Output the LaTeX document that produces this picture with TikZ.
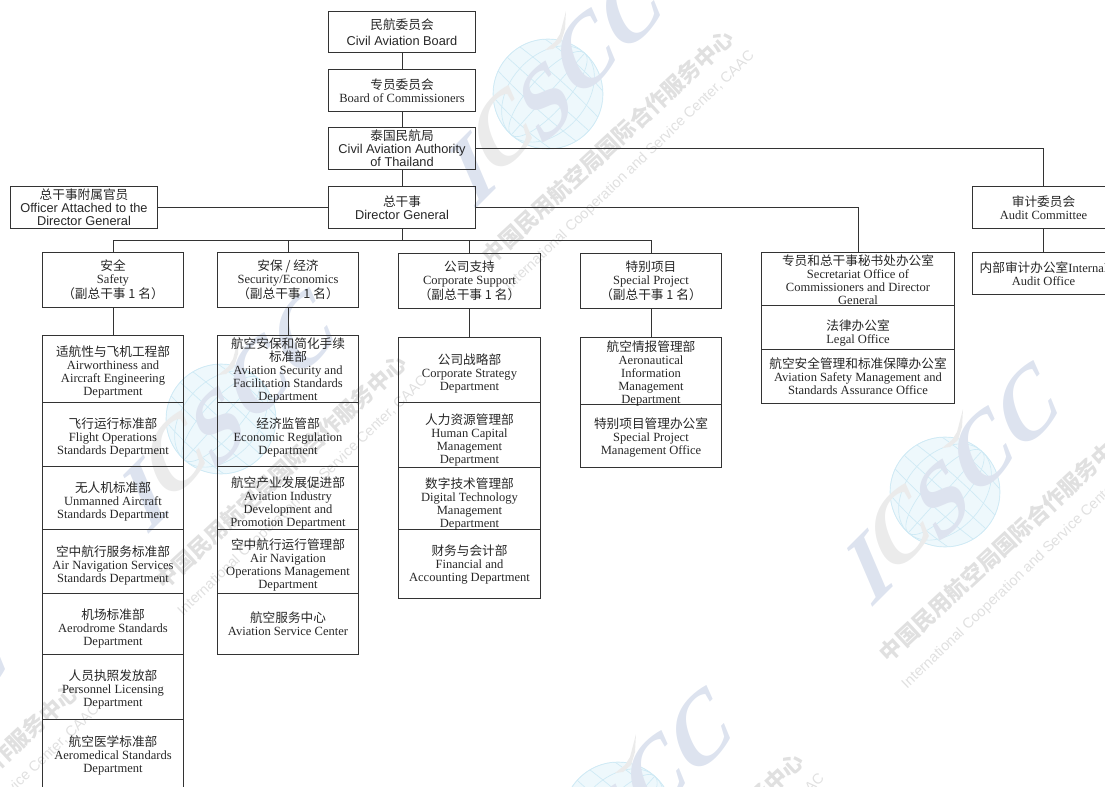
\documentclass[tikz,border=0pt]{standalone}
\usepackage{fontspec}
\setmainfont{Liberation Serif}
\newfontfamily\cjk{Noto Sans CJK SC}
\newfontfamily\sa{Liberation Sans}
\definecolor{wmblue}{HTML}{DDE3EF}
\definecolor{wmgray}{HTML}{EBEBEB}
\definecolor{wmglobe}{HTML}{EEF8FC}
\definecolor{wmgrid}{HTML}{CFEAF5}
\definecolor{wmtext}{HTML}{E0E0E0}
\definecolor{ink}{HTML}{333333}
\newcommand\zh[1]{{\cjk\fontsize{9.5pt}{9.75pt}\selectfont #1}}
\newcommand\se[1]{{\sa\fontsize{9.6pt}{9.75pt}\selectfont #1}}
\newdimen\pxu \pxu=0.75pt
\newcommand\bx[6][0]{%
  \pgfmathsetmacro\bw{(#5-#3)*0.75}\pgfmathsetmacro\bh{(#6-#4)*0.75}%
  \node[boxst,minimum width=\bw pt,minimum height=\bh pt] (#2) at ({(#3+#5)/2},{(#4+#6)/2}) {};
}
\newcommand\tx[3][0]{%
  \node[txtst] (#2t) at ([yshift=#1\pxu]#2.center) {#3};
}
\newcommand\wm[2]{%
  \begin{scope}[shift={(#1,#2)}]
    \fill[wmglobe] (0,0) circle[radius=55];
    \begin{scope}
      \clip (0,0) circle[radius=55];
      \begin{scope}[rotate=-42]
        \foreach \r in {18,38,55}{\draw[wmgrid,line width=.5pt] (0,0) ellipse[x radius=\r,y radius=55];}
        \draw[wmgrid,line width=.5pt] (0,-55) -- (0,55);
        \foreach \s in {-36,-16,16,36}{\draw[wmgrid,line width=.5pt] (-55,\s) .. controls (-20,{\s*1.2}) and (20,{\s*1.2}) .. (55,\s);}
        \draw[wmgrid,line width=.5pt] (-55,0) -- (55,0);
      \end{scope}
    \end{scope}
    \draw[wmgrid,line width=.5pt] (0,0) circle[radius=55];
    \fill[wmgray] (18,-83) -- (12,-60) -- (7,-52) -- (-3,-44) -- (5,-45) -- (13,-52) -- (17,-65) -- cycle;
    \node[wmletter,text=wmblue] at (-75,76) {I};
    \node[wmletter,text=wmgray] at (-45,36) {C};
    \node[wmletter,text=wmblue] at (-2,7) {S};
    \node[wmletter,text=wmblue] at (38,-42) {C};
    \node[wmletter,text=wmblue] at (83,-87) {C};
    \node[rotate=42.8,text=wmtext,font=\cjk\bfseries\fontsize{16.6pt}{17pt}\selectfont,inner sep=0] at (60,53) {中国民用航空局国际合作服务中心};
    \node[rotate=43.8,text=wmtext,font=\sa\fontsize{10.9pt}{11pt}\selectfont,inner sep=0] at (82,77) {International Cooperation and Service Center, CAAC};
  \end{scope}
}
\tikzset{
  boxst/.style={draw=ink,line width=.7pt,inner sep=0pt,rectangle},
  txtst/.style={align=center,inner sep=0pt,text=black!85,font=\fontsize{9.4pt}{9.75pt}\selectfont},
  link/.style={draw=ink,line width=.7pt},
  wmletter/.style={transform shape,rotate=45,xslant=0.4,inner sep=0,font=\bfseries\fontsize{68pt}{68pt}\selectfont},
}
\begin{document}
\begin{tikzpicture}[x=0.75pt,y=-0.75pt]
\clip (0,0) rectangle (1105,787);
\useasboundingbox (0,0) rectangle (1105,787);
\wm{548}{94}
\wm{221}{419}
\wm{945}{492}
\wm{-107}{748}
\wm{618}{817}

\bx{board}{328.5}{11.5}{475.5}{52.5}
\bx{comm}{328.5}{69.5}{475.5}{111.5}
\bx{caat}{328.5}{127.5}{475.5}{169.5}
\bx{dg}{328.5}{186.5}{475.5}{228.5}
\bx{officer}{10.5}{186.5}{157.5}{228.5}
\bx{audit}{972.5}{186.5}{1114.5}{228.5}
\bx{internal}{972.5}{252.5}{1114.5}{294.5}
\bx{safety}{42.5}{252.5}{183.5}{307.5}
\bx{secon}{217.5}{252.5}{358.5}{307.5}
\bx{corp}{398.5}{253.5}{540.5}{308.5}
\bx{special}{580.5}{253.5}{721.5}{308.5}
\bx{sec}{761.5}{252.5}{954.5}{305.5}
\bx{legal}{761.5}{305.5}{954.5}{349.5}
\bx{asm}{761.5}{349.5}{954.5}{403.5}

\bx{a1}{42.5}{335.5}{183.5}{402.5}
\bx{a2}{42.5}{402.5}{183.5}{466.5}
\bx{a3}{42.5}{466.5}{183.5}{529.5}
\bx{a4}{42.5}{529.5}{183.5}{593.5}
\bx{a5}{42.5}{593.5}{183.5}{654.5}
\bx{a6}{42.5}{654.5}{183.5}{719.5}
\bx{a7}{42.5}{719.5}{183.5}{790.5}

\bx{b1}{217.5}{335.5}{358.5}{402.5}
\bx{b2}{217.5}{402.5}{358.5}{466.5}
\bx{b3}{217.5}{466.5}{358.5}{529.5}
\bx{b4}{217.5}{529.5}{358.5}{593.5}
\bx{b5}{217.5}{593.5}{358.5}{654.5}

\bx{c1}{398.5}{337.5}{540.5}{402.5}
\bx{c2}{398.5}{402.5}{540.5}{467.5}
\bx{c3}{398.5}{467.5}{540.5}{529.5}
\bx{c4}{398.5}{529.5}{540.5}{598.5}

\bx{d1}{580.5}{337.5}{721.5}{404.5}
\bx{d2}{580.5}{404.5}{721.5}{467.5}

\tx{board}{\zh{民航委员会}\\[2.5pt]\se{Civil Aviation Board}}
\tx{comm}{\zh{专员委员会}\\Board of Commissioners}
\tx{caat}{\zh{泰国民航局}\\\se{Civil Aviation Authority}\\\se{of Thailand}}
\tx{dg}{\zh{总干事}\\\se{Director General}}
\tx{officer}{\zh{总干事附属官员}\\\se{Officer Attached to the}\\\se{Director General}}
\tx{audit}{\zh{审计委员会}\\Audit Committee}
\tx[0]{internal}{\zh{内部审计办公室}Internal\\Audit Office}
\tx{safety}{\zh{安全}\\Safety\\\zh{（副总干事 1 名）}}
\tx{secon}{\zh{安保 / 经济}\\Security/Economics\\\zh{（副总干事 1 名）}}
\tx{corp}{\zh{公司支持}\\Corporate Support\\\zh{（副总干事 1 名）}}
\tx{special}{\zh{特别项目}\\Special Project\\\zh{（副总干事 1 名）}}
\tx[-1]{sec}{\zh{专员和总干事秘书处办公室}\\Secretariat Office of\\Commissioners and Director\\General}
\tx[-5.5]{legal}{\zh{法律办公室}\\Legal Office}
\tx{asm}{\zh{航空安全管理和标准保障办公室}\\Aviation Safety Management and\\Standards Assurance Office}

\tx[-2.5]{a1}{\zh{适航性与飞机工程部}\\Airworthiness and\\Aircraft Engineering\\Department}
\tx[-3]{a2}{\zh{飞行运行标准部}\\Flight Operations\\Standards Department}
\tx[-3.5]{a3}{\zh{无人机标准部}\\Unmanned Aircraft\\Standards Department}
\tx[-3.5]{a4}{\zh{空中航行服务标准部}\\Air Navigation Services\\Standards Department}
\tx[-4.5]{a5}{\zh{机场标准部}\\Aerodrome Standards\\Department}
\tx[-2.5]{a6}{\zh{人员执照发放部}\\Personnel Licensing\\Department}
\tx[0]{a7}{\zh{航空医学标准部}\\Aeromedical Standards\\Department}

\tx[-1.7]{b1}{\zh{航空安保和简化手续}\\\zh{标准部}\\Aviation Security and\\Facilitation Standards\\Department}
\tx[-3]{b2}{\zh{经济监管部}\\Economic Regulation\\Department}
\tx[-4.5]{b3}{\zh{航空产业发展促进部}\\Aviation Industry\\Development and\\Promotion Department}
\tx[-3]{b4}{\zh{空中航行运行管理部}\\Air Navigation\\Operations Management\\Department}
\tx[0]{b5}{\zh{航空服务中心}\\Aviation Service Center}

\tx[-3.8]{c1}{\zh{公司战略部}\\Corporate Strategy\\Department}
\tx[-4.5]{c2}{\zh{人力资源管理部}\\Human Capital\\Management\\Department}
\tx[-5.5]{c3}{\zh{数字技术管理部}\\Digital Technology\\Management\\Department}
\tx[-1]{c4}{\zh{财务与会计部}\\Financial and\\Accounting Department}

\tx[-2.7]{d1}{\zh{航空情报管理部}\\Aeronautical\\Information\\Management\\Department}
\tx[-1.5]{d2}{\zh{特别项目管理办公室}\\Special Project\\Management Office}

\draw[link] (board) -- (comm);
\draw[link] (comm) -- (caat);
\draw[link] (caat) -- (dg);
\draw[link] (officer) -- (dg);
\draw[link] (caat.east) -| (audit.north);
\draw[link] (dg.east) -| (sec.north);
\draw[link] (audit) -- (internal);
\coordinate (bus) at (402,240.5);
\draw[link] (dg.south) -- (bus);
\draw[link] (bus) -| (safety.north);
\draw[link] (bus) -| (secon.north);
\draw[link] (bus) -| (corp.north);
\draw[link] (bus) -| (special.north);
\draw[link] (safety) -- (a1);
\draw[link] (secon) -- (b1);
\draw[link] (corp) -- (c1);
\draw[link] (special) -- (d1);
\end{tikzpicture}
\end{document}
